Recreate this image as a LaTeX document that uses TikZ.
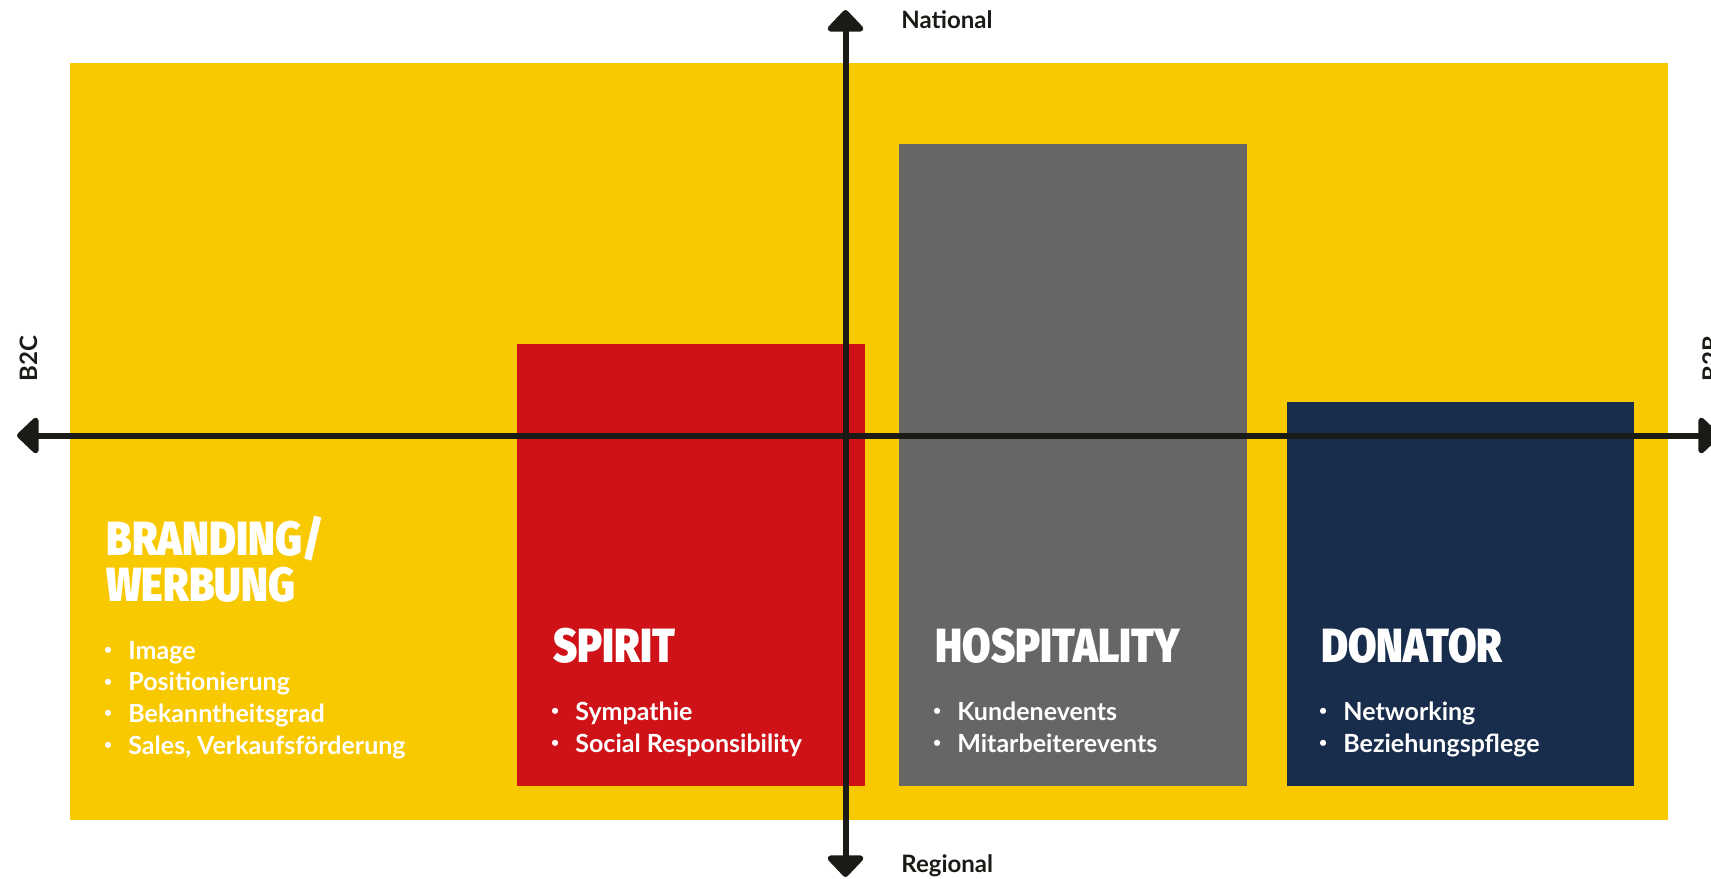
\documentclass[tikz,border=0pt]{standalone}
\usepackage{fontspec}
\setmainfont{Lato}
\newfontfamily\headfont[FakeStretch=0.86]{Fira Sans Black}
\usetikzlibrary{arrows.meta}

\definecolor{bgyellow}{HTML}{F9C900}
\definecolor{spiritred}{HTML}{CE1217}
\definecolor{hospgray}{HTML}{676664}
\definecolor{donnavy}{HTML}{172D4B}
\definecolor{axisblack}{HTML}{1A1A16}

\tikzset{
	boxhead/.style={anchor=base west, inner sep=0pt, text=white, font=\headfont\fontsize{24}{24}\selectfont},
	listitem/.style={anchor=base west, inner sep=0pt, text=white, font=\bfseries\fontsize{12.5}{14}\selectfont},
	axislabel/.style={inner sep=0pt, text=axisblack, font=\bfseries\fontsize{12}{14}\selectfont},
	axis/.style={line width=3pt, draw=axisblack,
		{Triangle[width=21pt,length=11.5pt,round]}-{Triangle[width=21pt,length=11.5pt,round]}}
}
\newcommand\blt{\makebox[0pt][r]{\raisebox{2.3pt}{\fontsize{7}{7}\selectfont\textbullet}\hspace{8.1pt}}}

\begin{document}
\begin{tikzpicture}[x=0.5pt,y=-0.5pt]
	\useasboundingbox (0,0) rectangle (1711,878);
	
	% background and bars
	\fill[bgyellow] (70,62.5) rectangle (1668,820);
	\fill[spiritred] (517,344) rectangle (865,785.5);
	\fill[hospgray] (899,144) rectangle (1247,785.5);
	\fill[donnavy] (1286.5,401.5) rectangle (1633.5,785.5);
	
	% headings
	\node[boxhead] (brand1) at (106,555) {BRANDING/};
	\node[boxhead] (brand2) at (106,601) {WERBUNG};
	\node[boxhead] (spirit) at (553,662) {SPIRIT};
	\node[boxhead] (hosp) at (935,662) {HOSPITALITY};
	\node[boxhead] (donator) at (1321,662) {DONATOR};
	
	% bullet lists
	\foreach \t [count=\i] in {Image, Positionierung, Bekanntheitsgrad, {Sales, Verkaufsförderung}}
		\node[listitem] (brand-\i) at (128,659+31.7*\i-31.7) {\blt\t};
	\foreach \t [count=\i] in {Sympathie, Social Responsibility}
		\node[listitem] (spirit-\i) at (575,720+32*\i-32) {\blt\t};
	\foreach \t [count=\i] in {Kundenevents, Mitarbeiterevents}
		\node[listitem] (hosp-\i) at (957,720+32*\i-32) {\blt\t};
	\foreach \t [count=\i] in {Networking, Beziehungspflege}
		\node[listitem] (donator-\i) at (1343,720+32*\i-32) {\blt\t};
	
	% axes
	\coordinate (national) at (845.5,10);
	\coordinate (regional) at (845.5,877);
	\coordinate (b2c) at (17,435.5);
	\coordinate (b2b) at (1720,435.5);
	\draw[axis] (regional) -- (national);
	\draw[axis] (b2c) -- (b2b);
	
	\node[axislabel, anchor=base west] (nat-label) at (901,28) {National};
	\node[axislabel, anchor=base west] (reg-label) at (901,872.5) {Regional};
	\node[axislabel, rotate=90] (b2c-label) at (28.5,358.5) {B2C};
	\node[axislabel, rotate=90] (b2b-label) at (1711,358.5) {B2B};
\end{tikzpicture}
\end{document}
